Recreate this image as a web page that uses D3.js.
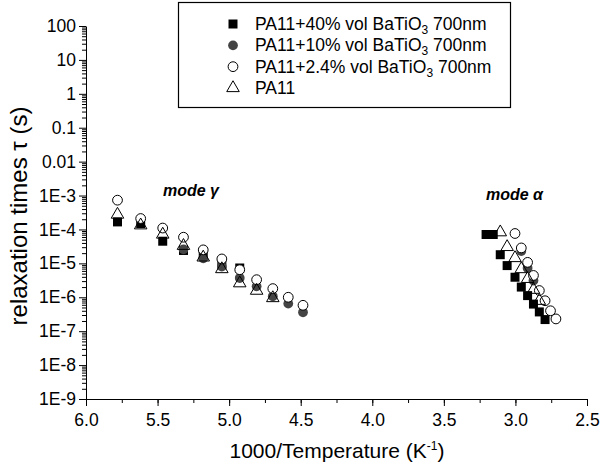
<!DOCTYPE html>
<html>
<head>
<script src="https://d3js.org/d3.v7.min.js"></script>
<style>
  body { margin: 0; background: #fff; }
  text { font-family: "Liberation Sans", Arial, sans-serif; }
</style>
</head>
<body>
<div id="chart"></div>
<script>
// x values are 1000/T, y values are relaxation times in seconds
var sq40 = [
  [5.780, 1.67e-4], [5.618, 1.5e-4], [5.464, 4.5e-5], [5.319, 2.4e-5], [5.181, 1.7e-5],
  [5.051, 9.5e-6], [4.926, 7.3e-6],
  [3.205, 7.1e-5], [3.155, 7.1e-5], [3.106, 1.8e-5], [3.058, 8.6e-6], [3.003, 3.9e-6],
  [2.959, 2.0e-6], [2.915, 1.12e-6], [2.874, 6.3e-7], [2.833, 3.7e-7], [2.793, 2.2e-7]
];
var fc10 = [
  [5.319, 2.6e-5], [5.181, 1.4e-5], [5.051, 8.0e-6], [4.926, 3.7e-6], [4.808, 2.1e-6],
  [4.695, 1.07e-6], [4.587, 6.5e-7], [4.484, 3.6e-7],
  [2.959, 2.3e-5], [2.915, 7.3e-6], [2.874, 3.1e-6]
];
var oc24 = [
  [5.780, 7.3e-4], [5.618, 2.1e-4], [5.464, 1.1e-4], [5.319, 5.9e-5], [5.181, 2.5e-5],
  [5.051, 1.35e-5], [4.926, 6.5e-6], [4.808, 3.3e-6], [4.695, 1.8e-6], [4.587, 1.0e-6],
  [4.484, 5.8e-7],
  [3.003, 7.6e-5], [2.959, 2.85e-5], [2.915, 1.07e-5], [2.874, 4.4e-6], [2.833, 1.58e-6],
  [2.793, 7.9e-7], [2.755, 4.0e-7], [2.717, 2.3e-7]
];
var triPA = [
  [5.780, 2.75e-4], [5.618, 1.33e-4], [5.464, 7.1e-5], [5.319, 3.3e-5], [5.181, 1.5e-5],
  [5.051, 6.8e-6], [4.926, 2.6e-6], [4.808, 1.57e-6], [4.695, 9.5e-7],
  [3.106, 8.3e-5], [3.058, 3.05e-5], [3.003, 1.44e-5], [2.959, 6.8e-6], [2.915, 3.5e-6],
  [2.874, 1.67e-6], [2.833, 7.9e-7]
];

var seriesNames = ["PA11+40% vol BaTiO", "PA11+10% vol BaTiO", "PA11+2.4% vol BaTiO", "PA11"];
var xTicks = [6.0, 5.5, 5.0, 4.5, 4.0, 3.5, 3.0, 2.5];
var yTicks = [1e-9, 1e-8, 1e-7, 1e-6, 1e-5, 1e-4, 1e-3, 0.01, 0.1, 1, 10, 100];
var yTickLabels = ["1E-9", "1E-8", "1E-7", "1E-6", "1E-5", "1E-4", "1E-3", "0.01", "0.1", "1", "10", "100"];

var width = 600, height = 470;
var svg = d3.select("#chart").append("svg")
  .attr("width", width).attr("height", height);

var x = d3.scaleLinear().domain([6, 2.5]).range([86, 587]);
var y = d3.scaleLog().domain([1e-9, 100]).range([399, 26]);

// minor ticks
var xMinor = d3.range(6, 2.49, -0.25);
var yMinor = [];
yTicks.slice(0, -1).forEach(function(d) {
  for (var k = 2; k <= 9; k++) yMinor.push(d * k);
});

svg.append("g")
  .attr("transform", "translate(0,399)")
  .call(d3.axisBottom(x).tickValues(xMinor).tickSize(4).tickFormat(""))
  .call(function(g) { g.select(".domain").remove(); });
svg.append("g")
  .attr("transform", "translate(86,0)")
  .call(d3.axisLeft(y).tickValues(yMinor).tickSize(4).tickFormat(""))
  .call(function(g) { g.select(".domain").remove(); });

var xAxis = svg.append("g")
  .attr("transform", "translate(0,399)")
  .call(d3.axisBottom(x).tickValues(xTicks).tickSize(7).tickSizeOuter(0)
    .tickFormat(d3.format(".1f")));
xAxis.selectAll("text").attr("font-size", 17.5).attr("fill", "#000").attr("dy", "0.95em");

var yAxis = svg.append("g")
  .attr("transform", "translate(86,0)")
  .call(d3.axisLeft(y).tickValues(yTicks).tickSize(7).tickSizeOuter(0)
    .tickFormat(function(d, i) { return yTickLabels[i]; }));
yAxis.selectAll("text").attr("font-size", 17.5).attr("fill", "#000").attr("x", -10);

svg.selectAll(".domain, .tick line").attr("stroke", "#000");

// axis titles
var xt = svg.append("text")
  .attr("x", 337).attr("y", 458)
  .attr("text-anchor", "middle").attr("font-size", 21);
xt.append("tspan").text("1000/Temperature (K");
xt.append("tspan").attr("dy", -8).attr("font-size", 12).text("-1");
xt.append("tspan").attr("dy", 8).text(")");

svg.append("text")
  .attr("transform", "translate(27,216) rotate(-90)")
  .attr("text-anchor", "middle").attr("font-size", 24)
  .text("relaxation times \u03c4 (s)");

// mode labels
svg.append("text").attr("x", 163).attr("y", 196)
  .attr("font-size", 16).attr("font-weight", "bold").attr("font-style", "italic")
  .text("mode \u03b3");
svg.append("text").attr("x", 486).attr("y", 200)
  .attr("font-size", 16).attr("font-weight", "bold").attr("font-style", "italic")
  .text("mode \u03b1");

// markers
var sqSym = d3.symbol().type(d3.symbolSquare).size(81);
var circSym = d3.symbol().type(d3.symbolCircle).size(75);
var triSym = d3.symbol().type(d3.symbolTriangle).size(68);

function drawPoints(data, sym, fill, stroke) {
  svg.append("g").selectAll("path").data(data).enter().append("path")
    .attr("d", sym)
    .attr("transform", function(d) { return "translate(" + x(d[0]) + "," + y(d[1]) + ")"; })
    .attr("fill", fill).attr("stroke", stroke).attr("stroke-width", 1);
}
drawPoints(sq40, sqSym, "#000", "none");
drawPoints(fc10, circSym, "#444", "none");
drawPoints(oc24, circSym, "#fff", "#000");
drawPoints(triPA, triSym, "none", "#000");

// legend
svg.append("rect").attr("x", 178.5).attr("y", 2.5).attr("width", 332).attr("height", 105)
  .attr("fill", "#fff").attr("stroke", "#000").attr("stroke-width", 1.2);

var legendSyms = [[sqSym, "#000", "none"], [circSym, "#444", "none"], [circSym, "#fff", "#000"], [triSym, "none", "#000"]];
var rowY = d3.scalePoint().domain(seriesNames).range([24, 88]);
seriesNames.forEach(function(name, i) {
  var ry = rowY(name);
  svg.append("path").attr("d", legendSyms[i][0])
    .attr("transform", "translate(233," + ry + ")")
    .attr("fill", legendSyms[i][1]).attr("stroke", legendSyms[i][2]);
  var t = svg.append("text").attr("x", 255).attr("y", ry + 6).attr("font-size", 17.5);
  t.append("tspan").text(name);
  if (i < 3) {
    t.append("tspan").attr("dy", 4).attr("font-size", 12).text("3");
    t.append("tspan").attr("dy", -4).text(" 700nm");
  }
});
</script>
</body>
</html>
